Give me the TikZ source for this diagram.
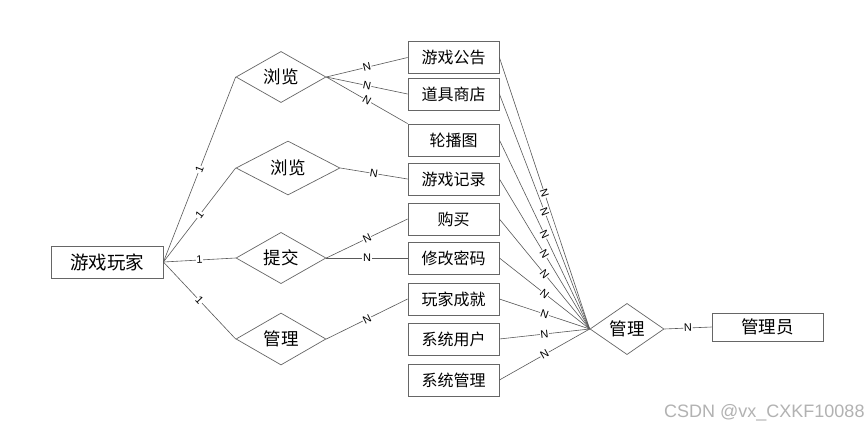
\documentclass[tikz,border=0pt]{standalone}
\usepackage{fontspec}
\setmainfont{Liberation Sans}
\newfontfamily\cjk{Noto Sans CJK SC}
\usetikzlibrary{shapes.geometric}
\begin{document}
\begin{tikzpicture}[x=1pt,y=-1pt,
  ent/.style={draw=black!60, line width=0.8pt, minimum width=91pt, minimum height=32pt, inner sep=0pt, font=\cjk\fontsize{16}{16}\selectfont},
  rel/.style={diamond, draw=black!60, line width=0.7pt, inner sep=0pt, font=\cjk\fontsize{17.5}{17.5}\selectfont},
  conn/.style={draw=black!65, line width=0.6pt},
  card/.style={midway, sloped, fill=white, inner sep=0.6pt, font=\fontsize{11}{11}\selectfont}]
\useasboundingbox (0,0) rectangle (868,429);
\fill[white] (0,0) rectangle (868,429);
% entities and relations
\node[ent, minimum width=112pt, minimum height=32pt, font=\cjk\fontsize{18.5}{18.5}\selectfont] (player) at (107,262) {游戏玩家};
\node[rel, minimum width=90pt, minimum height=47pt] (r1) at (281,77) {浏览};
\node[rel, minimum width=104pt, minimum height=54pt] (r2) at (288,168) {浏览};
\node[rel, minimum width=90pt, minimum height=48pt] (r3) at (281,258) {提交};
\node[rel, minimum width=90pt, minimum height=52pt] (r4) at (281,339) {管理};
\node[ent] (e1) at (453.5,57.5) {游戏公告};
\node[ent] (e2) at (453.5,94) {道具商店};
\node[ent] (e3) at (453.5,140) {轮播图};
\node[ent] (e4) at (453.5,179) {游戏记录};
\node[ent] (e5) at (453.5,219) {购买};
\node[ent] (e6) at (453.5,258) {修改密码};
\node[ent] (e7) at (453.5,299) {玩家成就};
\node[ent] (e8) at (453.5,339) {系统用户};
\node[ent] (e9) at (453.5,380) {系统管理};
\node[rel, minimum width=74pt, minimum height=48pt] (r5) at (627,329) {管理};
\node[ent, minimum width=111pt, minimum height=28pt, font=\cjk\fontsize{17.5}{17.5}\selectfont] (admin) at (767.5,327) {管理员};
% connectors player side
\draw[conn] (player.east) -- node[card] {1} (r1.west);
\draw[conn] (player.east) -- node[card] {1} (r2.west);
\draw[conn] (player.east) -- node[card] {1} (r3.west);
\draw[conn] (player.east) -- node[card] {1} (r4.west);
% relations to entities
\draw[conn] (r1.east) -- node[card] {N} (e1.west);
\draw[conn] (r1.east) -- node[card] {N} (e2.west);
\draw[conn] (r1.east) -- node[card] {N} (e3.north west);
\draw[conn] (r2.east) -- node[card] {N} (e4.west);
\draw[conn] (r3.east) -- node[card] {N} (e5.west);
\draw[conn] (r3.east) -- node[card] {N} (e6.west);
\draw[conn] (r4.east) -- node[card] {N} (e7.west);
% entities to admin relation
\foreach \e in {e1,e2,e3,e4,e5,e6,e7,e8,e9}{
  \draw[conn] (\e.east) -- node[card] {N} (r5.west);
}
\draw[conn] (r5.east) -- node[card] {N} (admin.west);
% watermark
\node[anchor=west, text=black!30, inner sep=0pt, font=\fontsize{18}{18}\selectfont] (wm) at (664,413) {CSDN @vx\_CXKF10088};
\end{tikzpicture}
\end{document}
